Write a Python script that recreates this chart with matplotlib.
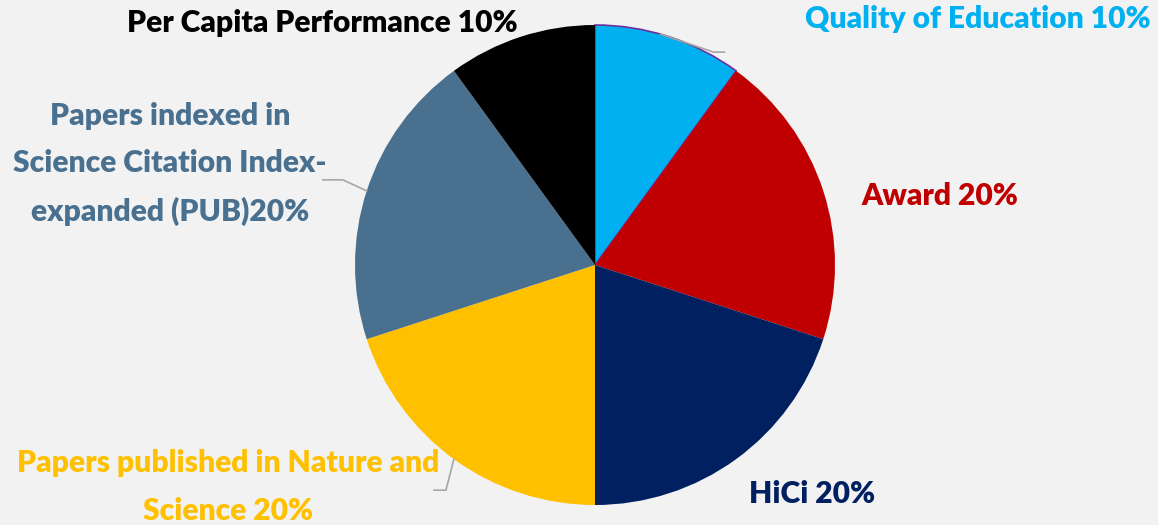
import numpy as np
import matplotlib
matplotlib.use("Agg")
from matplotlib import pyplot as plt

# data
labels = ["Quality of Education 10%", "Award 20%", "HiCi 20%",
          "Papers published in Nature and\nScience 20%",
          "Papers indexed in\nScience Citation Index-\nexpanded (PUB)20%",
          "Per Capita Performance 10%"]
weights = [10, 20, 20, 20, 20, 10]
colors = ["#00B0F0", "#C00000", "#002060", "#FFC000", "#4A7090", "#000000"]

W, H = 1158, 525
fig = plt.figure(figsize=(W / 100, H / 100), dpi=100, facecolor="#F2F2F2")
ax = fig.add_axes([0, 0, 1, 1])
ax.set_facecolor("#F2F2F2")

cx, cy, r = 595, H - 265, 240
wedges, _ = ax.pie(weights, colors=colors, startangle=90, counterclock=False,
                   center=(cx, cy), radius=r, frame=True,
                   wedgeprops=dict(linewidth=0))
ax.set_xlim(0, W)
ax.set_ylim(0, H)
ax.axis("off")
wedges[0].set_edgecolor("#7030A0")
wedges[0].set_linewidth(1.2)

# label positions (pixel coords, y from top) and leader line shape
text_pos = [(978, 19), (940, 196), (812, 494), (228, 487), (170, 164), (322, 23)]
# (position within wedge, elbow dx, elbow dy, tail dx)
leaders = {0: (0.44, 53, -18, 11), 3: (0.5, -8, -31, -12), 4: (0.5, -24, 11, -20)}

cum = np.cumsum([0] + weights)
total = float(sum(weights))
for i, (lab, col) in enumerate(zip(labels, colors)):
    tx, ty = text_pos[i]
    ax.text(tx, H - ty, lab, color=col, fontsize=21.6, fontweight="heavy",
            family=["Lato", "DejaVu Sans"], ha="center", va="center",
            linespacing=1.84)
    if i in leaders:
        frac, ex, ey, tail = leaders[i]
        ang = np.deg2rad(90 - 360 * (cum[i] + frac * weights[i]) / total)
        px, py = cx + r * np.cos(ang), cy + r * np.sin(ang)
        x1, y1 = px + ex, py + ey
        ax.plot([px, x1, x1 + tail], [py, y1, y1], color="#A6A6A6", lw=1.2)

fig.savefig("out.png", dpi=100, facecolor=fig.get_facecolor())
